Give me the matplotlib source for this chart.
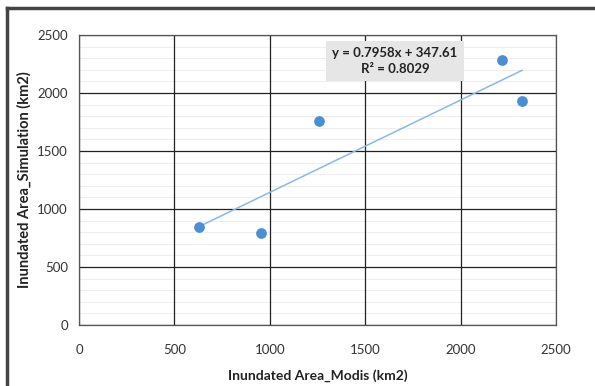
import matplotlib
matplotlib.use("Agg")
import matplotlib.pyplot as plt
from matplotlib.lines import Line2D
import numpy as np

modis = [630, 955, 1260, 2217, 2322]
simulation = [845, 795, 1755, 2284, 1935]
slope = 0.7958
intercept = 347.61
r2 = 0.8029

plt.rcParams['font.family'] = ['Lato', 'DejaVu Sans']

fig = plt.figure(figsize=(5.95, 3.86), dpi=100)
ax = fig.add_axes([79/595, 1 - 325/386, (556-79)/595, (325-35)/386])

ax.set_xlim(0, 2500)
ax.set_ylim(0, 2500)
ax.set_xticks(np.arange(0, 2501, 500))
ax.set_yticks(np.arange(0, 2501, 500))
ax.set_yticks(np.arange(0, 2501, 100), minor=True)
ax.grid(True, which='minor', axis='y', color='#eeeeee', linewidth=0.8)
ax.grid(True, which='major', color='#222222', linewidth=0.9)
ax.yaxis.set_zorder(0.5)
ax.xaxis.set_zorder(1)
for s in ax.spines.values():
    s.set_color('#555555')
    s.set_linewidth(0.9)
ax.tick_params(length=0, labelsize=9.5, colors='#333333')
ax.tick_params(axis='x', pad=14)
ax.tick_params(axis='y', pad=8)
ax.tick_params(which='minor', length=0)

ax.scatter(modis, simulation, s=45, color='#4a8fd6', zorder=3)
xs = np.array([min(modis), max(modis)])
ax.plot(xs, slope * xs + intercept, color='#8ab8e6', linewidth=1.1, zorder=2)

ax.text(1656, 2276, f"y = {slope}x + {intercept}\nR² = {r2}",
        ha='center', va='center', fontsize=9.5, fontweight='bold',
        color='#222222', linespacing=1.35,
        bbox=dict(boxstyle='square,pad=0.45', fc='#e6e6e6', ec='none'), zorder=4)

ax.set_xlabel("Inundated Area_Modis (km2)", fontsize=10, fontweight='bold',
              color='#222222', labelpad=9)
ax.set_ylabel("Inundated Area_Simulation (km2)", fontsize=10.5, fontweight='bold',
              color='#222222', labelpad=4)

# outer chart frame
fig.add_artist(Line2D([7/595, 7/595], [0, 1 - 8/386], color='#444444', lw=2.5))
fig.add_artist(Line2D([7/595, 1], [1 - 8/386, 1 - 8/386], color='#444444', lw=2.5))

fig.savefig("out.png", dpi=100)
